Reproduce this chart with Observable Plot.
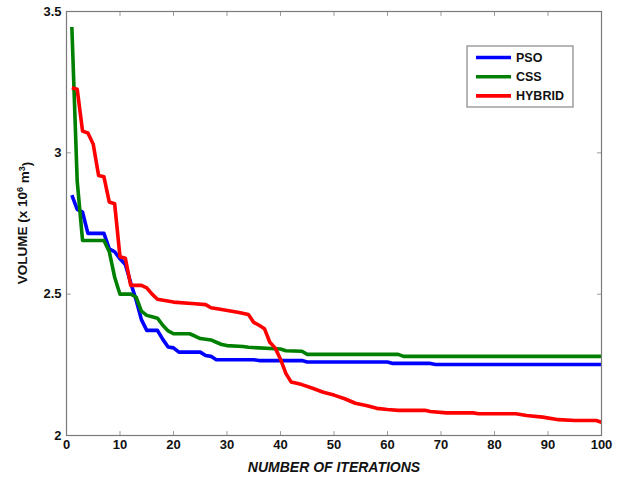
<!DOCTYPE html>
<html>
<head>
<meta charset="utf-8">
<script src="https://cdn.jsdelivr.net/npm/d3@7"></script>
<script src="https://cdn.jsdelivr.net/npm/@observablehq/plot@0.6"></script>
<style>
  html, body { margin: 0; padding: 0; background: #fff; }
</style>
</head>
<body>
<div id="chart"></div>
<script>
// ---- data ----
const seriesNames = ["PSO", "CSS", "HYBRID"];
const seriesColors = ["#0000ff", "#008000", "#ff0000"];

const psoIter = [1,2,3,4,7,8,9,10,11,12,13,14,15,17,18,19,20,21,25,26,27,28,35,36,44,45,60,61,68,69,100];
const psoVol  = [2.85,2.80,2.79,2.715,2.715,2.66,2.65,2.625,2.605,2.54,2.48,2.41,2.372,2.372,2.34,2.313,2.31,2.295,2.295,2.283,2.28,2.268,2.268,2.265,2.265,2.26,2.26,2.255,2.255,2.251,2.251];

const cssIter = [1,2,3,7,8,9,10,12,13,14,15,16,17,18,19,20,23,24,25,27,28,29,30,33,34,40,41,44,45,62,63,100];
const cssVol  = [3.445,2.90,2.69,2.69,2.65,2.56,2.50,2.50,2.49,2.44,2.425,2.42,2.415,2.39,2.37,2.36,2.36,2.352,2.343,2.338,2.33,2.322,2.318,2.315,2.312,2.306,2.300,2.298,2.287,2.287,2.28,2.28];

const hybIter = [1,2,3,4,5,6,7,8,9,10,11,12,14,15,16,17,20,24,26,27,29,32,34,35,36,37,38,39,40,41,42,44,46,48,50,52,54,56,58,60,62,67,68,71,76,77,84,86,89,92,95,99,100];
const hybVol  = [3.23,3.225,3.077,3.07,3.03,2.92,2.915,2.826,2.82,2.632,2.627,2.531,2.531,2.522,2.50,2.482,2.472,2.466,2.463,2.452,2.446,2.436,2.428,2.40,2.39,2.378,2.33,2.31,2.27,2.22,2.189,2.18,2.167,2.153,2.143,2.13,2.114,2.106,2.096,2.092,2.089,2.089,2.085,2.08,2.08,2.077,2.077,2.071,2.065,2.056,2.053,2.053,2.047];

const xTicks = [0,10,20,30,40,50,60,70,80,90,100];
const yTicks = [2,2.5,3,3.5];
const xDomain = [0,100];
const yDomain = [2,3.5];
const xLabel = "NUMBER OF ITERATIONS";
const yLabelMain = "VOLUME (x 10";
const yLabelExp1 = "6";
const yLabelUnit = " m";
const yLabelExp2 = "3";
const yLabelEnd = ")";

// ---- build table ----
const rows = [];
[[psoIter, psoVol], [cssIter, cssVol], [hybIter, hybVol]].forEach(([it, v], s) => {
  it.forEach((x, i) => rows.push({series: seriesNames[s], iter: x, vol: v[i]}));
});

const font = "'Liberation Sans', Arial, Helvetica, sans-serif";
const frameColor = "#7a7a7a";
const tickColor = "#9a9a9a";
const tickShape = { draw(ctx, l) { ctx.moveTo(0, 0); ctx.lineTo(0, -l); } };

const lineMarks = seriesNames.map((name, i) =>
  Plot.line(rows.filter(r => r.series === name), {
    x: "iter", y: "vol", stroke: seriesColors[i], strokeWidth: 3.6,
    strokeLinejoin: "round", strokeLinecap: "butt"
  })
);

const tickOpts = { length: 4, anchor: "start", shape: tickShape, stroke: tickColor, strokeWidth: 1 };

const svg = Plot.plot({
  width: 621,
  height: 481,
  marginLeft: 66,
  marginRight: 20,
  marginTop: 11,
  marginBottom: 46,
  style: { fontFamily: font, fontSize: "13px", fontWeight: "bold", background: "#fff", color: "#000", overflow: "visible" },
  x: { domain: xDomain },
  y: { domain: yDomain },
  marks: [
    Plot.axisX(xTicks, { tickSize: 0, tickPadding: 4, label: null, fill: "#111" }),
    Plot.axisY(yTicks, { tickSize: 0, tickPadding: 5, label: null, tickFormat: d => String(d), fill: "#111" }),
    // inward tick marks on all four sides
    Plot.vector(xTicks, { x: d => d, y: () => yDomain[0], rotate: 0, ...tickOpts }),
    Plot.vector(xTicks, { x: d => d, y: () => yDomain[1], rotate: 180, ...tickOpts }),
    Plot.vector(yTicks, { y: d => d, x: () => xDomain[0], rotate: 90, ...tickOpts }),
    Plot.vector(yTicks, { y: d => d, x: () => xDomain[1], rotate: -90, ...tickOpts }),
    ...lineMarks,
    Plot.frame({ stroke: frameColor, strokeWidth: 1.2 }),
    Plot.text([xLabel], { frameAnchor: "bottom", dy: 32, text: d => d, textAnchor: "middle", lineAnchor: "middle", fontSize: 14, fontWeight: "bold", fontStyle: "italic", fill: "#111" })
  ]
});

const root = d3.select(svg);

// ---- y-axis title with superscripts ----
const yt = root.append("text")
  .attr("transform", "translate(22,223) rotate(-90)")
  .attr("text-anchor", "middle").attr("dy", "0.36em")
  .attr("font-family", font).attr("font-size", 13.5).attr("font-weight", "bold").attr("fill", "#111");
yt.append("tspan").text(yLabelMain);
yt.append("tspan").attr("dy", "-0.45em").attr("font-size", 9).text(yLabelExp1);
yt.append("tspan").attr("dy", "0.45em").text(yLabelUnit);
yt.append("tspan").attr("dy", "-0.45em").attr("font-size", 9).text(yLabelExp2);
yt.append("tspan").attr("dy", "0.45em").text(yLabelEnd);

// ---- legend (boxed, upper right, inside the axes) ----
const g = root.append("g").attr("class", "legend");
const lx = 467, ly = 46, lw = 106, lh = 61;
g.append("rect").attr("x", lx).attr("y", ly).attr("width", lw).attr("height", lh)
  .attr("fill", "#fff").attr("stroke", "#888").attr("stroke-width", 1.2);
seriesNames.forEach((name, i) => {
  const y = ly + 11.5 + i * 19.2;
  g.append("line").attr("x1", lx + 9).attr("x2", lx + 44).attr("y1", y).attr("y2", y)
    .attr("stroke", seriesColors[i]).attr("stroke-width", 3.6);
  g.append("text").attr("x", lx + 49).attr("y", y).attr("dy", "0.36em")
    .attr("text-anchor", "start")
    .attr("font-family", font).attr("font-size", 12.5).attr("font-weight", "bold")
    .attr("fill", "#111").text(name);
});

document.getElementById("chart").appendChild(svg);
</script>
</body>
</html>
